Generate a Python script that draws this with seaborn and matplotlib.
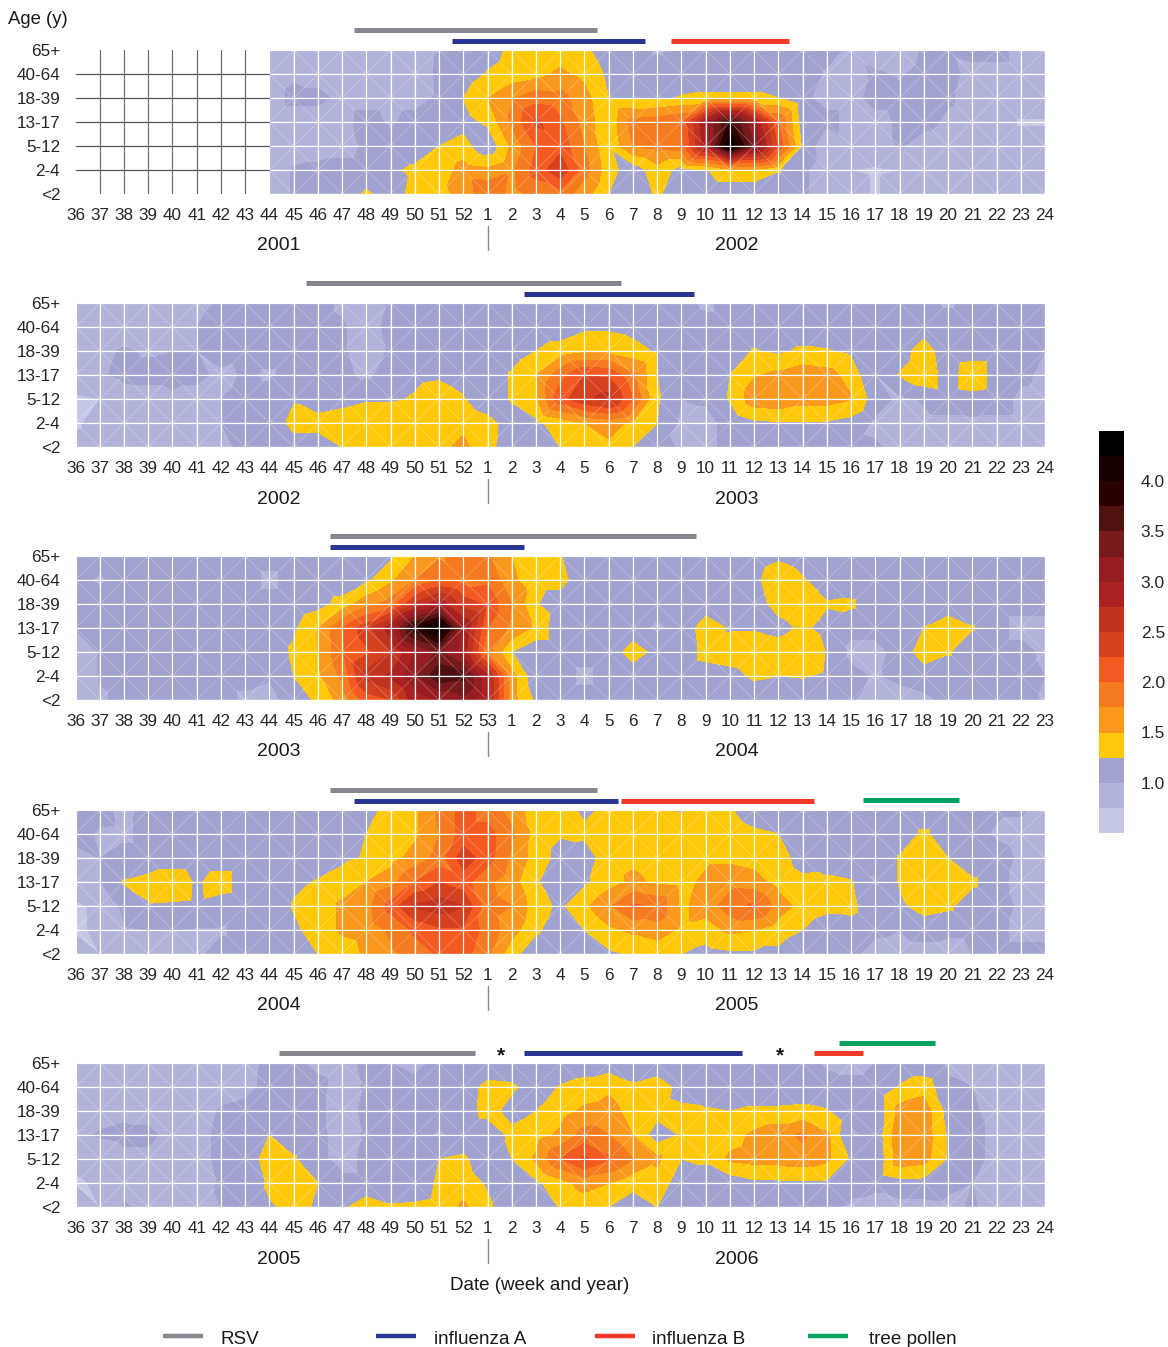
import numpy as np
import matplotlib
matplotlib.use("Agg")
import matplotlib.pyplot as plt
import matplotlib.tri as mtri
from matplotlib.colors import ListedColormap
from matplotlib.lines import Line2D
from matplotlib.transforms import blended_transform_factory
import seaborn as sns

W, H = 1168, 1347
n = np.nan

age_labels = ["65+", "40-64", "18-39", "13-17", "5-12", "2-4", "<2"]
weeks_std = [str(w) for w in list(range(36, 53)) + list(range(1, 25))]
weeks_53 = [str(w) for w in list(range(36, 54)) + list(range(1, 24))]
blank = [n] * 8

vals_2001 = [
    blank + [.9,.9,.9,.9,.9,.9,.9,1.02,1.05,1.15,1.3,1.38,1.38,1.3,1.1,1.1,.97,1.05,1.1,1.1,1.1,1.1,1.1,1.05,.97,.9,.9,1.02,1.02,1.05,1.05,.95,.95],
    blank + [.9,.97,.93,.9,.9,.9,.9,1.03,1.1,1.27,1.35,1.42,1.55,1.42,1.2,1.1,1.1,1.1,1.1,1.1,1.1,1.1,1.1,.98,.95,1.02,.98,1.05,1.05,.95,.95,.95,.95],
    blank + [.9,1.05,1.05,.95,.95,.95,.95,1.02,1.25,1.5,1.72,1.9,1.85,1.6,1.25,1.2,1.2,1.27,1.3,1.3,1.3,1.25,1.03,.95,.95,1.05,1.05,1.05,1.02,.95,.95,.95,.95],
    blank + [.9,.9,.9,.95,1.05,.98,1.05,1.0,1.15,1.3,1.8,2.3,2.05,1.65,1.3,1.85,1.9,2.0,3.0,3.8,3.0,2.0,1.1,1.05,.95,.95,1.02,1.05,.97,.95,.9,.72,.72],
    blank + [.88,.9,.9,.95,1.02,1.05,1.1,1.25,1.35,1.05,1.55,2.0,2.15,1.75,1.28,1.75,1.85,1.9,2.9,4.4,3.3,2.2,1.2,.8,.95,.88,1.02,.92,.9,.9,.9,.9,.9],
    blank + [.88,1.02,1.05,1.05,1.05,1.2,1.3,1.35,1.6,1.55,1.7,2.1,2.45,1.85,1.35,1.1,1.4,1.15,1.22,1.45,1.45,1.27,1.05,.85,.75,.72,.75,.9,.9,.9,.9,.9,.9],
    blank + [.88,1.02,1.05,1.05,1.3,1.1,1.35,1.45,1.55,2.0,1.65,1.85,1.9,1.6,1.25,1.05,1.3,1.05,1.05,1.05,1.05,1.05,1.05,.85,.85,.72,.85,.9,.9,.9,.9,.9,.9],
]

vals_2002 = [
    [.9,.9,.9,.9,.9,.95,1.02,1.05,1.05,1.05,1.05,.97,.92,1.02,1.08,1.1,1.1, 1.1,1.1,1.1,1.1,1.1,1.1,1.1,1.1,1.05,.97,1.05,1.1,1.1,1.1,1.1,1.1,1.1,1.1,1.05,.97,1.05,1.1,1.1,1.1],
    [.9,.9,.9,.9,.9,1.0,1.08,1.05,1.05,1.05,1.05,1.02,.92,1.05,1.08,1.1,1.1, 1.1,1.1,1.1,1.1,1.2,1.2,1.15,1.1,1.08,1.05,1.05,1.05,1.05,1.05,1.05,1.05,1.05,1.05,1.1,1.1,1.1,1.1,1.1,1.1],
    [.95,.95,1.02,.98,1.0,1.0,1.1,1.05,1.05,1.05,1.05,1.02,.92,1.02,1.08,1.08,1.08, 1.08,1.1,1.25,1.35,1.45,1.45,1.35,1.22,1.05,1.05,1.1,1.27,1.2,1.3,1.27,1.2,1.05,1.1,1.4,1.05,1.1,1.1,1.1,1.0],
    [.95,.97,1.05,1.05,1.05,1.05,.95,1.02,.98,1.05,1.05,1.05,.95,1.1,1.2,1.22,1.15, 1.05,1.28,1.5,1.9,2.25,2.2,1.8,1.25,1.05,1.02,1.25,1.48,1.55,1.65,1.6,1.4,.99,1.27,1.45,1.1,1.45,1.1,1.05,.95],
    [.7,.75,.9,.92,.97,.92,1.0,1.05,1.05,1.22,1.1,1.15,1.22,1.22,1.27,1.35,1.27, 1.05,1.28,1.45,2.15,2.45,2.6,2.0,1.28,1.0,1.02,1.28,1.65,1.7,1.6,1.6,1.52,1.1,.95,1.02,1.1,1.15,1.1,.95,.92],
    [.7,.85,.9,.9,.9,.9,1.0,1.05,1.05,1.35,1.35,1.4,1.45,1.45,1.45,1.45,1.45, 1.35,1.1,1.2,1.35,1.5,1.6,1.45,1.25,.95,.95,1.05,1.2,1.22,1.22,1.22,1.15,.95,.95,.95,.95,.95,.95,.95,.95],
    [.9,.9,.9,.9,.9,.9,.95,1.05,1.05,1.1,1.1,1.25,1.35,1.35,1.35,1.45,1.55, 1.35,1.05,1.05,1.25,1.45,1.45,1.25,1.05,.98,.95,1.05,1.05,1.05,1.05,1.05,1.05,1.02,.95,.95,.95,.95,.95,.95,.95],
]

vals_2003 = [
    [1.05,1.05,1.05,1.05,1.05,1.05,1.05,1.05,1.05,1.05,1.05,1.05,1.05,1.2,1.5,1.7,1.85,1.8, 1.5,1.35,1.27,1.05,1.05,1.05,1.05,1.05,1.05,1.05,1.1,1.2,1.12,1.05,1.05,1.05,1.05,1.05,1.05,1.05,1.05,1.05,1.05],
    [1.05,.98,1.05,1.05,1.05,1.05,1.05,1.05,.97,1.05,1.05,1.05,1.2,1.45,1.75,2.0,1.9,1.95, 1.55,1.35,1.35,1.05,1.05,1.05,1.24,1.05,1.05,1.05,1.18,1.42,1.28,1.1,1.05,1.05,1.05,1.05,1.05,1.05,1.05,1.05,1.05],
    [1.05,1.05,1.05,1.05,1.05,1.05,1.05,1.05,1.05,1.05,1.15,1.35,1.65,1.85,2.5,2.9,2.4,2.2, 1.75,1.27,1.1,1.05,1.05,1.05,1.05,1.05,1.1,1.05,1.12,1.35,1.45,1.27,1.3,1.05,1.05,1.05,1.05,1.05,1.05,1.05,1.05],
    [1.02,1.05,1.05,1.05,1.05,1.05,1.05,1.05,1.05,1.2,1.5,2.0,2.4,2.9,3.9,4.45,3.0,2.0, 1.7,1.45,1.05,1.05,1.05,1.05,.97,1.05,1.4,1.22,1.22,1.15,1.3,1.15,1.05,1.05,1.05,1.25,1.45,1.27,1.05,.95,.95],
    [.75,1.02,1.05,1.05,1.05,1.05,1.05,1.05,1.05,1.3,1.5,1.95,2.2,2.5,3.0,3.3,2.9,1.8, 1.25,1.05,1.05,1.05,1.05,1.4,1.15,1.05,1.35,1.4,1.45,1.4,1.5,1.23,.95,.95,1.05,1.4,1.28,1.05,1.05,1.05,.97],
    [.75,1.02,1.05,1.05,1.05,1.02,1.05,1.05,1.02,1.25,1.45,1.8,2.6,2.8,3.2,3.7,3.6,2.8, 1.6,1.05,1.05,.97,1.05,1.05,1.05,1.05,1.1,1.15,1.3,1.25,1.27,1.2,1.05,.98,1.05,1.1,1.05,1.05,1.05,1.05,1.0],
    [.75,.97,1.05,1.05,1.05,1.05,1.05,.97,.92,1.1,1.3,1.6,2.1,2.25,2.9,3.0,3.2,2.8, 1.6,1.2,1.05,1.05,1.05,1.05,1.05,1.05,1.05,1.05,1.05,1.05,1.05,1.05,1.02,.9,.9,.95,1.05,1.05,1.05,1.05,.98],
]

vals_2004 = [
    [1.05,1.05,.96,1.05,1.05,1.05,1.05,1.05,1.05,1.05,1.05,1.1,1.15,1.35,1.45,1.8,2.1, 1.9,1.65,1.35,1.35,1.2,1.3,1.35,1.3,1.22,1.35,1.27,1.1,1.1,1.24,1.05,1.05,1.05,1.05,1.05,1.05,1.05,1.02,1.02,.95],
    [1.05,.98,.97,1.05,1.05,1.05,1.05,1.05,1.05,1.05,1.05,1.1,1.25,1.4,1.45,1.75,2.1, 2.1,1.8,1.4,1.27,1.3,1.4,1.4,1.4,1.4,1.4,1.4,1.3,1.25,1.1,1.05,1.05,1.05,1.1,1.3,1.1,1.05,.98,.95,.9],
    [.95,1.0,1.05,1.05,1.05,1.05,1.05,1.05,1.05,1.05,1.12,1.2,1.27,1.4,1.6,1.85,2.4, 2.1,1.7,1.4,1.15,1.1,1.4,1.45,1.4,1.4,1.45,1.45,1.4,1.35,1.15,1.05,1.05,1.05,1.27,1.45,1.25,1.05,1.05,.98,.9],
    [.95,.98,1.27,1.35,1.47,1.2,1.4,1.05,1.05,1.2,1.27,1.35,1.5,1.65,2.0,2.25,2.1, 1.8,1.6,1.28,1.05,1.2,1.4,1.55,1.45,1.42,1.55,1.65,1.6,1.4,1.3,1.32,1.27,.98,1.27,1.45,1.45,1.3,1.05,.95,.9],
    [.7,.8,1.05,1.22,1.2,1.18,1.1,1.05,1.05,1.27,1.35,1.55,1.65,2.1,2.55,2.65,2.5, 1.85,1.75,1.35,1.2,1.45,1.7,2.05,1.95,1.45,1.6,1.9,2.05,1.65,1.4,1.32,1.32,1.05,1.2,1.35,1.3,1.1,1.05,.98,.9],
    [.7,.8,.97,1.0,1.0,.98,.98,1.05,1.05,1.2,1.35,1.55,1.6,1.8,2.05,2.2,2.2, 1.9,1.6,1.3,1.05,1.25,1.45,1.55,1.65,1.45,1.4,1.55,1.5,1.35,1.25,1.1,1.15,1.05,1.0,1.1,1.05,1.05,1.05,.95,.95],
    [.92,.75,.95,.95,.95,.97,1.05,1.05,1.05,1.1,1.25,1.35,1.55,1.7,1.85,2.05,2.1, 1.8,1.35,1.05,.98,1.05,1.2,1.28,1.3,1.25,1.15,1.2,1.2,1.2,1.05,1.05,1.05,.9,.9,.9,.9,1.0,1.05,1.05,1.05],
]

vals_2005 = [
    [.92,.92,.92,.92,.92,.92,.92,.95,1.03,1.05,.95,.92,1.05,1.0,.95,1.05,1.05, 1.05,1.05,1.05,1.05,1.1,1.1,1.05,1.05,1.05,1.05,1.05,1.05,1.05,1.05,.98,.95,1.0,1.05,1.05,.95,.9,.9,.9,.9],
    [.9,.9,.9,.9,.9,.9,.92,.95,1.05,1.05,1.05,.92,1.02,1.05,1.05,1.08,1.1, 1.33,1.3,1.1,1.27,1.35,1.45,1.3,1.4,1.15,1.05,1.05,1.05,1.05,1.05,1.05,1.05,1.05,1.27,1.4,1.05,1.0,.9,.9,.9],
    [.92,.92,.95,.92,.9,.9,1.02,1.05,1.05,1.05,1.05,.9,1.05,1.0,1.05,1.05,1.1, 1.35,1.15,1.25,1.4,1.55,1.6,1.4,1.35,1.3,1.28,1.25,1.3,1.3,1.32,1.27,1.05,1.05,1.6,1.65,1.15,1.02,.95,.9,.9],
    [.95,1.02,1.05,1.05,.92,.92,1.05,1.05,1.25,1.05,1.05,.92,1.02,1.05,1.05,.98,1.05, 1.05,1.32,1.4,1.55,1.85,1.75,1.5,1.1,1.27,1.35,1.4,1.55,1.65,1.8,1.55,.97,1.05,1.7,1.65,1.22,1.05,.95,.9,.9],
    [.8,.85,.95,.95,.92,.92,1.05,1.05,1.4,1.28,1.05,.92,1.05,1.05,1.05,1.25,1.3, 1.05,1.25,1.55,2.0,2.3,2.05,1.75,1.55,1.25,1.3,1.55,1.6,1.6,1.65,1.55,1.2,1.02,1.65,1.6,1.22,1.05,.95,.92,.9],
    [.72,.78,.95,.92,.92,.92,1.02,1.05,1.3,1.38,1.25,1.05,1.05,1.05,1.05,1.3,1.38, 1.22,1.05,1.2,1.4,1.6,1.5,1.33,1.4,1.1,1.05,1.1,1.2,1.2,1.2,1.2,1.05,1.05,1.15,1.15,1.05,1.0,.98,.9,.9],
    [.95,.75,1.02,.95,.95,.95,1.0,1.05,1.22,1.32,1.22,1.2,1.4,1.28,1.3,1.35,1.55, 1.3,1.05,1.05,1.27,1.35,1.25,1.1,1.25,1.05,1.02,1.02,1.02,1.02,1.02,1.02,.97,.92,.92,.92,.95,1.02,.92,.9,.9],
]

panel_vals = [vals_2001, vals_2002, vals_2003, vals_2004, vals_2005]
panel_weeks = [weeks_std, weeks_std, weeks_53, weeks_std, weeks_std]
panel_years = [("2001", "2002"), ("2002", "2003"), ("2003", "2004"), ("2004", "2005"), ("2005", "2006")]
panel_tops = [50, 303, 556, 810, 1063]

# activity periods, in columns from the left edge of each panel
rsv_periods = [(11.5, 21.5), (9.5, 22.5), (10.5, 25.6), (10.5, 21.5), (8.4, 16.5)]
flua_periods = [(15.55, 23.5), (18.5, 25.5), (10.5, 18.5), (11.5, 22.4), (18.5, 27.5)]
flub_periods = [(24.55, 29.45), None, None, (22.5, 30.45), (30.45, 32.5)]
pollen_periods = [None, None, None, (32.5, 36.45), (31.5, 35.45)]
rsv_gap = [20, 20, 20, 20, 10]
flua_gap = [9, 9, 9, 9, 10]
flub_gap = [9, 9, 9, 9, 10]
pollen_gap = [9, 9, 9, 10, 20]
star_cols = [17.55, 29.05]

levels = np.arange(0.5, 4.75, 0.25)
band_colors = ["#C5C8E4", "#B1B4DA", "#A0A2CF", "#FFC90A", "#F9981D", "#F57A20", "#F35A21", "#D5401F",
               "#C1331F", "#AB2020", "#961D22", "#761A1B", "#4F1210", "#2B0000", "#180000", "#000000"]
bar_values = [4.375 - 0.25 * i for i in range(16)]
cbar_ticks = [4.0, 3.5, 3.0, 2.5, 2.0, 1.5, 1.0]

series_colors = {"RSV": "#85868F", "influenza A": "#2A3593", "influenza B": "#EE3A27", "tree pollen": "#00A45F"}
series_names = list(series_colors)

sns.set_theme(style="white")
plt.rcParams["font.family"] = ["Liberation Sans", "DejaVu Sans"]
plt.rcParams["text.color"] = "#1a1a1a"

fig = plt.figure(figsize=(W / 100, H / 100), dpi=100)


def px_box(x0, y0, x1, y1):
    return [x0 / W, 1 - y1 / H, (x1 - x0) / W, (y1 - y0) / H]


def make_tri(nx, ny, z):
    # squares split into triangles, the diagonal flips from cell to cell
    xx, yy = np.meshgrid(np.arange(nx), np.arange(ny))
    idx = lambda i, j: j * nx + i
    tris = []
    for j in range(ny - 1):
        for i in range(nx - 1):
            a, b, c, d = idx(i, j), idx(i + 1, j), idx(i + 1, j + 1), idx(i, j + 1)
            if (i + j + (i >= 18)) % 2:
                tris += [[a, b, c], [a, c, d]]
            else:
                tris += [[a, b, d], [b, c, d]]
    tris = np.array(tris)
    tri = mtri.Triangulation(xx.ravel(), yy.ravel(), tris)
    tri.set_mask(np.isnan(z.ravel()[tris]).any(axis=1))
    return tri


for p, (vals, wk, years, top) in enumerate(zip(panel_vals, panel_weeks, panel_years, panel_tops)):
    ax = fig.add_axes(px_box(75.5, top, 1045, top + 144))
    z = np.array(vals, dtype=float)[::-1]
    nx = z.shape[1]
    tri = make_tri(nx, 7, z)
    ax.tricontourf(tri, z.ravel(), levels=levels, colors=band_colors)
    ax.triplot(tri, color="white", lw=0.45, alpha=0.35)
    first = 8 if p == 0 else 0
    for j in range(7):
        ax.plot([first, nx - 1], [j, j], color="white", lw=0.85, clip_on=False)
    for i in range(first, nx):
        ax.plot([i, i], [0, 6], color="white", lw=0.85, clip_on=False)
    if p == 0:
        # weeks without data keep a bare dark grid
        for j in range(1, 6):
            ax.plot([0, 8], [j, j], color="#4f5a57", lw=0.9)
        for i in range(1, 8):
            ax.plot([i, i], [0, 6], color="#66706d", lw=0.9)
    ax.set_xlim(0, nx - 1)
    ax.set_ylim(0, 6)
    ax.set_xticks(range(nx))
    ax.set_xticklabels(wk, fontsize=12.3)
    ax.set_yticks(range(7))
    ax.set_yticklabels(age_labels[::-1], fontsize=12.3)
    ax.tick_params(axis="x", length=0, pad=10.2)
    ax.tick_params(axis="y", length=0, pad=11)
    sns.despine(ax=ax, left=True, bottom=True)

    trans = blended_transform_factory(ax.transData, ax.transAxes)
    for name, periods, gaps in zip(series_names, [rsv_periods, flua_periods, flub_periods, pollen_periods],
                                   [rsv_gap, flua_gap, flub_gap, pollen_gap]):
        if periods[p] is None:
            continue
        yb = 1 + gaps[p] / 144
        ax.plot(periods[p], [yb, yb], transform=trans, color=series_colors[name], lw=3.6,
                solid_capstyle="butt", clip_on=False)
    if p == 4:
        for c in star_cols:
            ax.text(c, 1 + 7 / 144, "*", transform=trans, ha="center", va="center", fontsize=15, fontweight="bold")

    bottom = top + 144
    fig.text(279 / W, 1 - (bottom + 52) / H, years[0], ha="center", va="center", fontsize=14)
    fig.text(737 / W, 1 - (bottom + 52) / H, years[1], ha="center", va="center", fontsize=14)
    fig.add_artist(Line2D([488 / W, 488 / W], [1 - (bottom + 32) / H, 1 - (bottom + 56) / H], color="#8a8a8a", lw=1))

fig.text(8 / W, 1 - 19 / H, "Age (y)", ha="left", va="center", fontsize=13.3)
fig.text(540 / W, 1 - 1286 / H, "Date (week and year)", ha="center", va="center", fontsize=13.5)

# colour key
cax = fig.add_axes(px_box(1099, 431, 1124, 833))
sns.heatmap(np.array(bar_values).reshape(-1, 1), ax=cax, cbar=False, vmin=0.5, vmax=4.5,
            cmap=ListedColormap(band_colors), xticklabels=False)
cax.yaxis.tick_right()
cax.set_yticks([(4.5 - v) / 0.25 for v in cbar_ticks])
cax.set_yticklabels([f"{v:.1f}" for v in cbar_ticks], rotation=0, fontsize=12.5)
cax.tick_params(axis="y", length=0, pad=12)

# legend row
legend_lines = [163, 376, 595, 808]
legend_texts = [220, 434, 652, 869]
for name, lx, tx in zip(series_names, legend_lines, legend_texts):
    fig.add_artist(Line2D([lx / W, (lx + 40) / W], [1 - 1336 / H, 1 - 1336 / H], color=series_colors[name], lw=3.2,
                          solid_capstyle="butt"))
    fig.text(tx / W, 1 - 1339 / H, name, ha="left", va="center", fontsize=13.6)

fig.savefig("out.png", dpi=100)
